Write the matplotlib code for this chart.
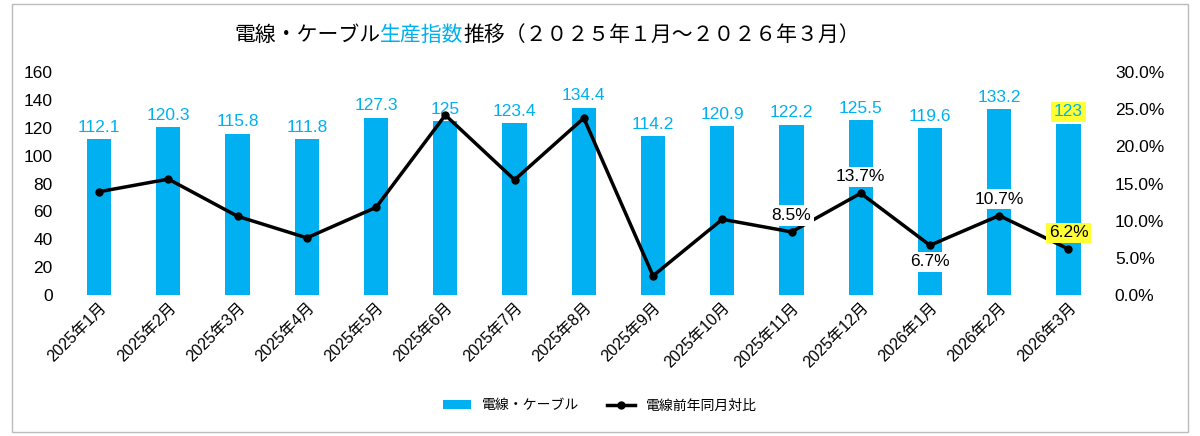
import matplotlib
matplotlib.use("Agg")
import matplotlib.pyplot as plt
from matplotlib.ticker import PercentFormatter

plt.rcParams['font.family'] = ['Liberation Sans', 'Noto Sans CJK JP', 'DejaVu Sans']

months = ["2025年1月","2025年2月","2025年3月","2025年4月","2025年5月","2025年6月","2025年7月","2025年8月",
          "2025年9月","2025年10月","2025年11月","2025年12月","2026年1月","2026年2月","2026年3月"]
index_vals = [112.1,120.3,115.8,111.8,127.3,125,123.4,134.4,114.2,120.9,122.2,125.5,119.6,133.2,123]
index_labels = ["112.1","120.3","115.8","111.8","127.3","125","123.4","134.4","114.2","120.9","122.2","125.5","119.6","133.2","123"]
yoy = [13.9,15.6,10.6,7.7,11.8,24.2,15.5,23.8,2.6,10.2,8.5,13.7,6.7,10.7,6.2]
yoy_labels = {10:"8.5%",11:"13.7%",12:"6.7%",13:"10.7%",14:"6.2%"}

blue = "#00B0F0"
fig = plt.figure(figsize=(12,4.36), dpi=100)
ax = fig.add_axes([0.048,0.323,0.877,0.512])
x = list(range(len(months)))
ax.bar(x, index_vals, width=0.35, color=blue, label="電線・ケーブル", zorder=2)
ax.set_ylim(0,160); ax.set_yticks(range(0,161,20))
ax.set_xlim(-0.6, len(months)-0.4)
ax.set_xticks(x); ax.set_xticklabels(months, rotation=45, ha='right', rotation_mode='anchor', fontsize=11)
for i,(v,l) in enumerate(zip(index_vals,index_labels)):
    kw = dict(bbox=dict(boxstyle='square,pad=0.15', fc='#FFFF33', ec='none')) if i==14 else {}
    ax.text(i, v+3, l, ha='center', va='bottom', color=blue, fontsize=12.5, zorder=5, **kw)
for s in ax.spines.values(): s.set_visible(False)
ax.tick_params(length=0, labelsize=12.5)
ax.tick_params(axis='x', labelsize=11.5)

ax2 = ax.twinx()
ax2.plot(x, yoy, color='black', lw=2.5, marker='o', ms=5, label="電線前年同月対比", zorder=3)
ax2.set_ylim(0,30); ax2.set_yticks(range(0,31,5))
ax2.yaxis.set_major_formatter(PercentFormatter(decimals=1))
for s in ax2.spines.values(): s.set_visible(False)
ax2.tick_params(length=0, labelsize=12.5)
for i,l in yoy_labels.items():
    dy = -2.2 if i==12 else 2.2
    fc = '#FFFF33' if i==14 else 'white'
    ax2.text(i, yoy[i]+dy, l, ha='center', va='center', fontsize=12.5,
             bbox=dict(boxstyle='square,pad=0.15', fc=fc, ec='none'), zorder=6)

t1 = fig.text(0.195, 0.92, "電線・ケーブル", fontsize=15, va='center', ha='left')
t2 = fig.text(0, 0, "生産指数", fontsize=15, color=blue, va='center', ha='left')
t3 = fig.text(0, 0, "推移（２０２５年１月～２０２６年３月）", fontsize=15, va='center', ha='left')
fig.canvas.draw()
r = fig.canvas.get_renderer()
bb1 = t1.get_window_extent(r)
t2.set_position((bb1.x1/1200, 0.92))
bb2 = t2.get_window_extent(r)
t3.set_position((bb2.x1/1200, 0.92))

h1,l1 = ax.get_legend_handles_labels(); h2,l2 = ax2.get_legend_handles_labels()
fig.legend(h1+h2, l1+l2, loc='center', bbox_to_anchor=(0.5,0.07), ncol=2, frameon=False, fontsize=10)
fig.patches.append(plt.Rectangle((0.01,0.01),0.98,0.98, transform=fig.transFigure, fill=False, ec='#BBBBBB', lw=1))
fig.savefig("out.png")
